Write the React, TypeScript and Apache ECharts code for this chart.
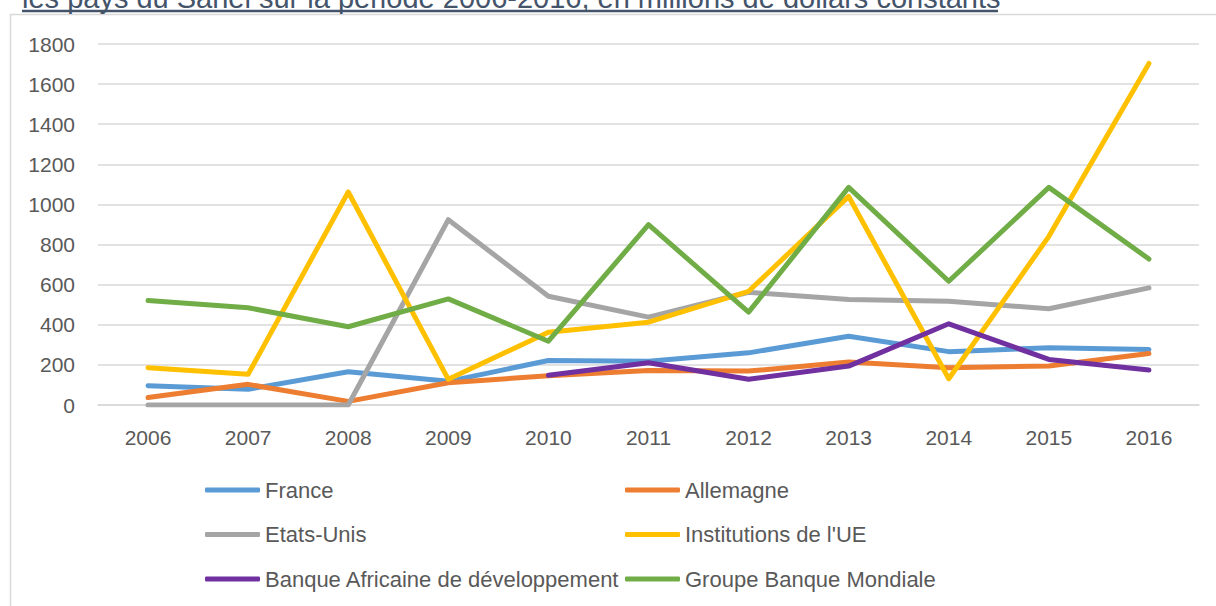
import React, { useEffect, useRef } from "react";
import * as echarts from "echarts";

const years = ["2006", "2007", "2008", "2009", "2010", "2011", "2012", "2013", "2014", "2015", "2016"];
const france = [96, 78, 166, 118, 222, 218, 260, 343, 266, 285, 277];
const allemagne = [37, 103, 18, 111, 146, 172, 169, 214, 186, 194, 257];
const etatsUnis = [0, 0, 0, 924, 542, 438, 562, 526, 517, 480, 584];
const institutionsUE = [186, 153, 1062, 128, 363, 413, 567, 1040, 131, 841, 1703];
const banqueAfricaine = [null, null, null, null, 148, 211, 128, 194, 405, 227, 174];
const groupeBM = [521, 485, 390, 529, 318, 899, 463, 1085, 617, 1085, 728];

const seriesNames = [
  "France",
  "Allemagne",
  "Etats-Unis",
  "Institutions de l'UE",
  "Banque Africaine de développement",
  "Groupe Banque Mondiale",
];
const seriesData = [france, allemagne, etatsUnis, institutionsUE, banqueAfricaine, groupeBM];
const colors = ["#5B9BD5", "#ED7D31", "#A5A5A5", "#FFC000", "#7030A0", "#70AD47"];
const titleText = "les pays du Sahel sur la période 2006-2016, en millions de dollars constants";

const FONT = "Liberation Sans";

export default function App() {
  const ref = useRef<HTMLDivElement>(null);
  useEffect(() => {
    if (!ref.current) return;
    const chart = echarts.init(ref.current, null, { renderer: "svg" });
    const legendCommon = {
      orient: "vertical" as const,
      top: 478,
      padding: 0,
      itemWidth: 55,
      itemHeight: 5,
      itemGap: 20.5,
      icon: "roundRect",
      textStyle: { fontFamily: FONT, fontSize: 22, color: "#595959", lineHeight: 24 },
    };
    chart.setOption({
      animation: false,
      backgroundColor: "#ffffff",
      color: colors,
      grid: { left: 98, right: 17, top: 44, bottom: 201, containLabel: false },
      xAxis: {
        type: "category",
        data: years,
        boundaryGap: true,
        axisLine: { show: true, lineStyle: { color: "#d9d9d9", width: 1.5 } },
        axisTick: { show: false },
        axisLabel: { fontFamily: FONT, fontSize: 21, color: "#595959", margin: 22 },
      },
      yAxis: {
        type: "value",
        min: 0,
        max: 1800,
        interval: 200,
        axisLine: { show: false },
        axisTick: { show: false },
        splitLine: { lineStyle: { color: "#d9d9d9", width: 1.5 } },
        axisLabel: {
          fontFamily: FONT,
          fontSize: 21,
          color: "#595959",
          margin: 23,
          formatter: (v: number) => String(v),
        },
      },
      legend: [
        { ...legendCommon, left: 205, data: [seriesNames[0], seriesNames[2], seriesNames[4]] },
        { ...legendCommon, left: 625, data: [seriesNames[1], seriesNames[3], seriesNames[5]] },
      ],
      graphic: [
        {
          type: "rect",
          silent: true,
          shape: { x: 10.5, y: 14.5, width: 1230, height: 620 },
          style: { fill: "none", stroke: "#d9d9d9", lineWidth: 1.5 },
          z: -10,
        },
        {
          type: "text",
          x: 22,
          y: 12,
          style: {
            text: titleText,
            fontFamily: FONT,
            fontSize: 29,
            fill: "#44546A",
            verticalAlign: "bottom",
          },
        },
        {
          type: "line",
          shape: { x1: 22, y1: 11, x2: 998, y2: 11 },
          style: { stroke: "#44546A", lineWidth: 2.5 },
        },
      ],
      series: seriesNames.map((name, i) => ({
        name,
        type: "line",
        data: seriesData[i],
        showSymbol: false,
        symbol: "none",
        connectNulls: false,
        lineStyle: { width: 5, color: colors[i], cap: "round", join: "round" },
        itemStyle: { color: colors[i] },
        emphasis: { disabled: true },
      })),
    });
    return () => chart.dispose();
  }, []);
  return <div ref={ref} style={{ width: 1216, height: 606, position: "absolute", left: 0, top: 0 }} />;
}
